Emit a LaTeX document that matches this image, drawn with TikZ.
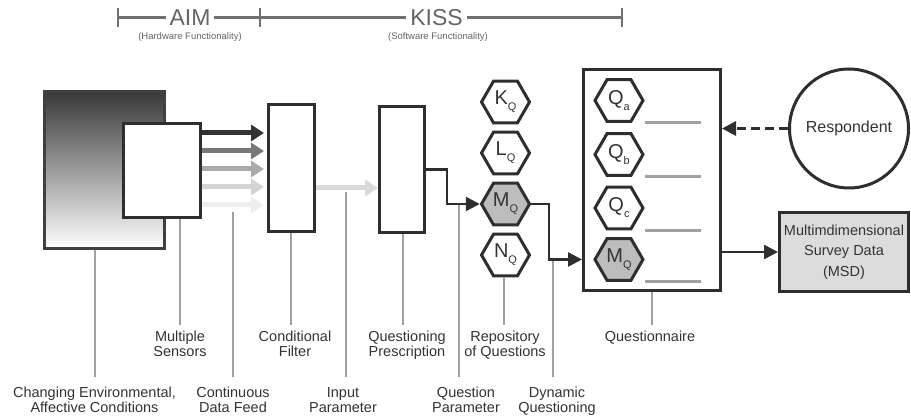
\documentclass[tikz,border=0pt]{standalone}
\usepackage{fontspec}
\setmainfont{Liberation Sans}
\usetikzlibrary{arrows.meta,shapes.geometric,calc}

\definecolor{ink}{HTML}{2E2E2E}
\definecolor{txt}{HTML}{333333}
\definecolor{rulegray}{HTML}{707070}
\definecolor{leadgray}{HTML}{A0A0A0}
\definecolor{hexgray}{HTML}{BDBDBD}
\definecolor{msdgray}{HTML}{DCDCDC}
\definecolor{feedA}{HTML}{333333}
\definecolor{feedB}{HTML}{777777}
\definecolor{feedC}{HTML}{AAAAAA}
\definecolor{feedD}{HTML}{D4D4D4}
\definecolor{feedE}{HTML}{EEEEEE}
\definecolor{feedL}{HTML}{D9D9D9}

% hexagon caption: large letter with a lowered small index
\newcommand\hexlab[2]{{\fontsize{20}{20}\selectfont #1}\raisebox{-6pt}{\fontsize{11}{11}\selectfont #2}}

\begin{document}
\begin{tikzpicture}[x=1pt,y=-1pt,
  box/.style={draw=ink, line width=3pt, fill=white, inner sep=0pt},
  hexnode/.style={regular polygon, regular polygon sides=6, minimum size=48pt,
    inner sep=0pt, draw=ink, line width=3pt, fill=white, text=txt},
  leader/.style={draw=leadgray, line width=2pt},
  lbl/.style={text=txt, font=\fontsize{14.5}{15}\selectfont, align=center, inner sep=0pt, anchor=base},
  conn/.style={draw=ink, line width=2.5pt, -{Triangle[length=14pt,width=14pt]}},
  feed/.style={line width=5pt, -{Triangle[length=13pt,width=16pt]}},
  ansline/.style={draw=leadgray, line width=3pt},
  barline/.style={draw=rulegray, line width=2.5pt},
  bartitle/.style={text=rulegray!90!black, fill=white, inner xsep=4pt, inner ysep=0pt, font=\fontsize{23}{23}\selectfont},
  barsub/.style={text=rulegray!90!black, inner sep=0pt, anchor=base, font=\fontsize{9.5}{10}\selectfont},
]
\useasboundingbox (0,0) rectangle (911,419);

% ---- scale bar: hardware / software ----
\coordinate (barL) at (118,17.5);
\coordinate (barM) at (260,17.5);
\coordinate (barR) at (622,17.5);
\draw[barline] (barL) -- (barR);
\foreach \p in {barL,barM,barR}
  \draw[barline] ($(\p)+(0,-9.5)$) -- ($(\p)+(0,9.5)$);
\node[bartitle] (aim) at (190,17.5) {AIM};
\node[bartitle] (kiss) at (436.5,17.5) {KISS};
\node[barsub] (aimsub) at (190,39.5) {(Hardware Functionality)};
\node[barsub] (kisssub) at (438,39.5) {(Software Functionality)};

% ---- boxes ----
\node[draw=black!75, line width=3pt, inner sep=0pt,
  top color=black!78, middle color=black!36, bottom color=white,
  minimum width=120pt, minimum height=157pt] (env) at (104.5,170) {};
\node[box, minimum width=77pt, minimum height=94pt] (sensors) at (162,170.5) {};
\node[box, minimum width=46pt, minimum height=127pt] (filter) at (291.5,168) {};
\node[box, minimum width=45pt, minimum height=126pt] (presc) at (402,169.5) {};

% repository of questions
\node[hexnode] (kq) at (505.5,102) {\hexlab{K}{Q}};
\node[hexnode] (lq) at (505.5,153) {\hexlab{L}{Q}};
\node[hexnode, fill=hexgray] (mq) at (505.5,204) {\hexlab{M}{Q}};
\node[hexnode] (nq) at (505.5,255) {\hexlab{N}{Q}};

% questionnaire
\node[box, minimum width=137pt, minimum height=221pt] (quest) at (652,180) {};
\node[hexnode] (qa) at (619,100.5) {\hexlab{Q}{a}};
\node[hexnode] (qb) at (619,154.5) {\hexlab{Q}{b}};
\node[hexnode] (qc) at (619,208) {\hexlab{Q}{c}};
\node[hexnode, fill=hexgray] (qm) at (619,259.5) {\hexlab{M}{Q}};
\foreach \h in {qa,qb,qc,qm}
  \draw[ansline] (\h.south -| \h.east) -- ++(56,0);

\node[circle, draw=ink, line width=3pt, fill=white, minimum size=119pt, inner sep=0pt,
  text=txt, font=\fontsize{16}{16}\selectfont] (resp) at (849,128.5) {Respondent};
\node[box, fill=msdgray, minimum width=129pt, minimum height=79pt, text=txt, align=center,
  font=\fontsize{14.5}{20.5}\selectfont] (msd) at (844,252)
  {Multimdimensional\\Survey Data\\(MSD)};

% ---- leader lines and labels ----
\coordinate (tenv)  at (95,377);
\coordinate (tsens) at (180,325);
\coordinate (sfeed) at (233,212);
\coordinate (tfeed) at (233,377);
\coordinate (tfilt) at (291,325);
\coordinate (sinp)  at (346,192);
\coordinate (tinp)  at (346,377);
\coordinate (tpres) at (403,325);
\coordinate (tqpar) at (459,377);
\coordinate (trep)  at (504,325);
\coordinate (tdyn)  at (553,377);
\coordinate (tquest) at (652,325);

\draw[leader] (env.south -| tenv) -- (tenv);
\draw[leader] (sensors.south -| tsens) -- (tsens);
\draw[leader] (sfeed) -- (tfeed);
\draw[leader] (filter.south -| tfilt) -- (tfilt);
\draw[leader] (sinp) -- (tinp);
\draw[leader] (presc.south -| tpres) -- (tpres);
\draw[leader] (mq.west -| tqpar) -- (tqpar);
\draw[leader] (nq.south -| trep) -- (trep);
\draw[leader] (qm -| tdyn) -- (tdyn);
\draw[leader] (quest.south -| tquest) -- (tquest);

% two-line labels: the base anchor sits on the second line
\node[lbl] (lenv)   at (94.5,413) {Changing Environmental,\\Affective Conditions};
\node[lbl] (lsens)  at (180,357) {Multiple\\Sensors};
\node[lbl] (lfeed)  at (233,413) {Continuous\\Data Feed};
\node[lbl] (lfilt)  at (295,357) {Conditional\\Filter};
\node[lbl] (linp)   at (343,413) {Input\\Parameter};
\node[lbl] (lpres)  at (407,357) {Questioning\\Prescription};
\node[lbl] (lqpar)  at (466,413) {Question\\Parameter};
\node[lbl] (lrep)   at (505,357) {Repository\\of Questions};
\node[lbl] (ldyn)   at (557,413) {Dynamic\\Questioning};
\node[lbl] (lquest) at (650,342) {Questionnaire};

% ---- sensor data feeds ----
\foreach \dy/\c in {-37.5/feedA, -19.5/feedB, -1.5/feedC, 16.5/feedD, 34.5/feedE}
  \draw[feed, draw=\c, fill=\c] ($(sensors.east)+(0,\dy)$) -- ($(filter.west |- sensors.east)+(-3,\dy)$);

% input parameter
\draw[feed, draw=feedL, fill=feedL] ($(filter.east)+(0,20)$) -- ($(presc.west |- filter.east)+(0,20)$);

% ---- question flow ----
\draw[conn] (presc.east) -- ++(21,0) |- (mq.west);
\draw[conn] (mq.east) -- ++(18,0) |- (quest.west |- qm);
\draw[conn] (quest.east |- msd.west) -- (msd.west);
\draw[conn, dash pattern=on 9pt off 5pt, line width=3pt] (resp.west) -- (quest.east |- resp.west);

\end{tikzpicture}
\end{document}
